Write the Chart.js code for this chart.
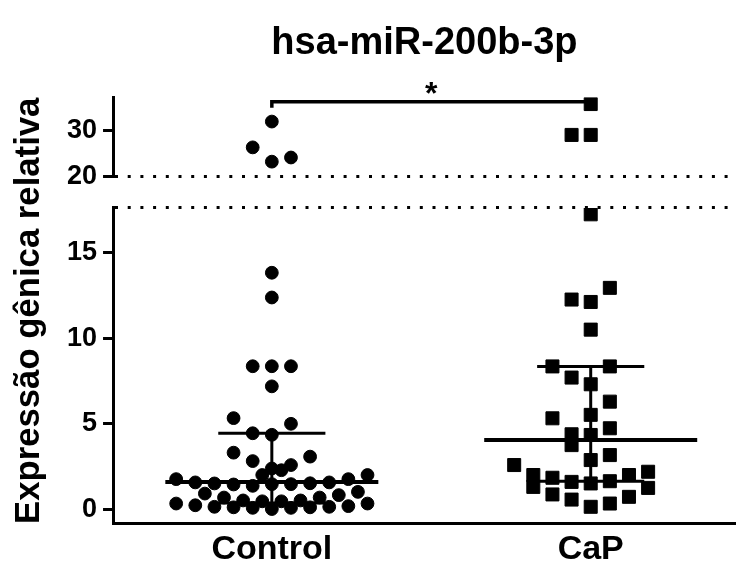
<!DOCTYPE html>
<html>
<head>
<meta charset="utf-8">
<title>hsa-miR-200b-3p</title>
<script src="https://cdn.jsdelivr.net/npm/chart.js@4/dist/chart.umd.min.js"></script>
<style>
  html, body { margin: 0; padding: 0; background: #fff; overflow: hidden; }
  #chart-box { position: relative; width: 746px; height: 571px; }
  #dotChart { display: block; }
</style>
</head>
<body>
<div id="chart-box"><canvas id="dotChart"></canvas></div>
<script>
'use strict';

// ***** DATA *****
let categories = ['Control', 'CaP'];

// relative expression of each sample
let controlValues = [32.0, 26.4, 24.2, 23.3,
  13.8, 12.36, 8.36, 8.36, 8.36, 7.19,
  5.34, 5.01, 4.46, 4.37, 3.33, 3.1, 2.84, 2.61, 2.41, 2.31, 2.03,
  1.79, 1.6, 1.54, 1.48, 1.4, 1.5, 1.5, 1.55, 1.6, 1.79, 2.03,
  0.95, 0.72, 0.72, 0.86, 1.05,
  0.55, 0.5, 0.5, 0.55,
  0.37, 0.27, 0.18, 0.15, 0.12, 0.05, 0.12, 0.15, 0.18, 0.22, 0.37];
// column slot of each dot in the scatter (0 = centre)
let controlSlots = [0, -1, 1, 0,
  0, 0, -1, 0, 1, 0,
  -2, 1, -1, 0, -2, 2, -1, 1, 0, 0.5, -0.5,
  -5, -4, -3, -2, -1, 0, 1, 2, 3, 4, 5,
  -3.5, -2.5, 2.5, 3.5, 4.5,
  -1.5, -0.5, 0.5, 1.5,
  -5, -4, -3, -2, -1, 0, 1, 2, 3, 4, 5];

let capValues = [35.8, 29.1, 29.1, 17.2,
  12.92, 12.24, 12.1, 10.49, 8.35, 8.35, 7.7, 7.31, 6.3,
  5.33, 5.53, 4.75, 4.4, 3.77, 4.36, 3.19, 2.9,
  2.61, 2.03, 1.34, 1.87, 1.63, 1.54, 1.67, 2.03, 2.22, 1.28,
  0.9, 0.6, 0.18, 0.37, 0.76];
let capSlots = [0, -1, 0, 0,
  1, -1, 0, 0, -2, 1, -1, 0, 1,
  -2, 0, 1, -1, -1, 0, 1, 0,
  -4, -3, -3, -2, -1, 0, 1, 2, 3, 3,
  -2, -1, 0, 1, 2];

// median with interquartile range
let medians = [1.63, 4.07];
let lowerQuartiles = [0.4, 1.67];
let upperQuartiles = [4.46, 8.35];

// broken y axis
let lowTicks = [0, 5, 10, 15];
let highTicks = [20, 30];
let lowMin = -0.82;
let lowMax = 17.57;
let highMin = 20;
let highMax = 37.2;

// significance bracket
let bracketFoot = 35.0;
let bracketTop = 36.3;
let significance = '*';

// ***** STYLE *****
const FONT = 'Liberation Sans';
const slotWidth = 0.06;
const medianHalf = 0.334;
const capHalf = 0.168;

// ***** HELPERS *****
function dotPoints(values, slots, center, high){
  let points = [];
  for(let i = 0; i < values.length; i++){
    if((values[i] >= highMin) === high){
      points.push({x: center + slots[i] * slotWidth, y: values[i]});
    }
  }
  return points;
}

function medianPoints(){
  let pts = [];
  for(let i = 0; i < categories.length; i++){
    let c = i + 1;
    pts.push({x: c - medianHalf, y: medians[i]}, {x: c + medianHalf, y: medians[i]}, {x: c, y: null});
  }
  return pts;
}

function iqrPoints(){
  let pts = [];
  for(let i = 0; i < categories.length; i++){
    let c = i + 1;
    pts.push({x: c - capHalf, y: upperQuartiles[i]}, {x: c + capHalf, y: upperQuartiles[i]}, {x: c, y: null});
    pts.push({x: c, y: upperQuartiles[i]}, {x: c, y: lowerQuartiles[i]}, {x: c, y: null});
    pts.push({x: c - capHalf, y: lowerQuartiles[i]}, {x: c + capHalf, y: lowerQuartiles[i]}, {x: c, y: null});
  }
  return pts;
}

function lineSet(data, axis, width){
  return {
    data: data,
    yAxisID: axis,
    showLine: true,
    spanGaps: false,
    pointRadius: 0,
    borderColor: '#000',
    borderWidth: width,
    borderCapStyle: 'butt'
  };
}

function dotSet(data, axis, style){
  return {
    data: data,
    yAxisID: axis,
    pointStyle: style,
    pointRadius: style === 'rect' ? 9.2 : 6.4,
    pointBackgroundColor: '#000',
    pointBorderColor: '#000',
    pointBorderWidth: 1
  };
}

function yAxis(min, max, ticks, dottedAt, stackWeight, weight){
  return {
    type: 'linear',
    position: 'left',
    stack: 'yStack',
    stackWeight: stackWeight,
    weight: weight,
    min: min,
    max: max,
    afterBuildTicks: function(scale){
      scale.ticks = ticks.map(v => ({value: v}));
    },
    ticks: {
      color: '#000',
      padding: 6,
      font: {family: FONT, size: 27, weight: 'bold'},
      callback: function(value){
        return lowTicks.includes(value) || highTicks.includes(value) ? String(value) : '';
      }
    },
    grid: {
      drawOnChartArea: true,
      color: ctx => (ctx.tick && ctx.tick.value === dottedAt ? '#000' : 'rgba(0,0,0,0)'),
      lineWidth: 3,
      tickColor: ctx => (ctx.tick && lowTicks.concat(highTicks).includes(ctx.tick.value) ? '#000' : 'rgba(0,0,0,0)'),
      tickLength: 10,
      tickWidth: 3
    },
    border: {display: true, color: '#000', width: 3, dash: [3, 9.7]}
  };
}

// ***** PLUGINS *****
const starPlugin = {
  id: 'sigStar',
  afterDatasetsDraw(chart){
    let ctx = chart.ctx;
    let x = chart.scales.x.getPixelForValue(1.5);
    let y = chart.scales.yHigh.getPixelForValue(bracketTop);
    ctx.save();
    ctx.font = `bold 32px "${FONT}"`;
    ctx.fillStyle = '#000';
    ctx.textAlign = 'center';
    ctx.textBaseline = 'alphabetic';
    ctx.fillText(significance, x, y + 2);
    ctx.restore();
  }
};

// ***** CHART *****
const canvasElem = document.getElementById('dotChart');

let chartObj = {
  type: 'scatter',
  data: {
    datasets: [
      lineSet(medianPoints(), 'yLow', 4),
      lineSet(iqrPoints(), 'yLow', 3),
      lineSet([{x: 1, y: bracketFoot}, {x: 1, y: bracketTop}, {x: 2, y: bracketTop}, {x: 2, y: bracketFoot}], 'yHigh', 3.5),
      dotSet(dotPoints(controlValues, controlSlots, 1, false), 'yLow', 'circle'),
      dotSet(dotPoints(controlValues, controlSlots, 1, true), 'yHigh', 'circle'),
      dotSet(dotPoints(capValues, capSlots, 2, false), 'yLow', 'rect'),
      dotSet(dotPoints(capValues, capSlots, 2, true), 'yHigh', 'rect')
    ]
  },
  options: {
    responsive: true,
    maintainAspectRatio: false,
    animation: false,
    events: [],
    layout: {padding: {left: 0, right: 3, top: 0, bottom: -5}},
    plugins: {
      legend: {display: false},
      tooltip: {enabled: false},
      title: {
        display: true,
        fullSize: false,
        text: 'hsa-miR-200b-3p',
        color: '#000',
        font: {family: FONT, size: 38, weight: 'bold'},
        padding: {top: 21, bottom: 31}
      },
      subtitle: {
        display: true,
        position: 'left',
        fullSize: false,
        text: 'Expressão gênica relativa',
        color: '#000',
        font: {family: FONT, size: 35, weight: 'bold'},
        padding: {top: 8, bottom: 11}
      }
    },
    scales: {
      x: {
        type: 'linear',
        min: 0.502,
        max: 2.455,
        afterBuildTicks: function(scale){
          scale.ticks = categories.map((c, i) => ({value: i + 1}));
        },
        ticks: {
          color: '#000',
          padding: 13,
          font: {family: FONT, size: 34, weight: 'bold', lineHeight: 0.765},
          callback: value => categories[Math.round(value) - 1]
        },
        grid: {display: false, drawTicks: false},
        border: {display: true, color: '#000', width: 3}
      },
      yLow: yAxis(lowMin, lowMax, lowTicks.concat([lowMax]), lowMax, 315, 1),
      yGap: {
        type: 'linear',
        position: 'left',
        stack: 'yStack',
        stackWeight: 31,
        weight: 2,
        ticks: {display: false},
        grid: {display: false},
        border: {display: false}
      },
      yHigh: yAxis(highMin, highMax, highTicks, highMin, 79, 3)
    }
  },
  plugins: [starPlugin]
};

new Chart(canvasElem, chartObj);
</script>
</body>
</html>
